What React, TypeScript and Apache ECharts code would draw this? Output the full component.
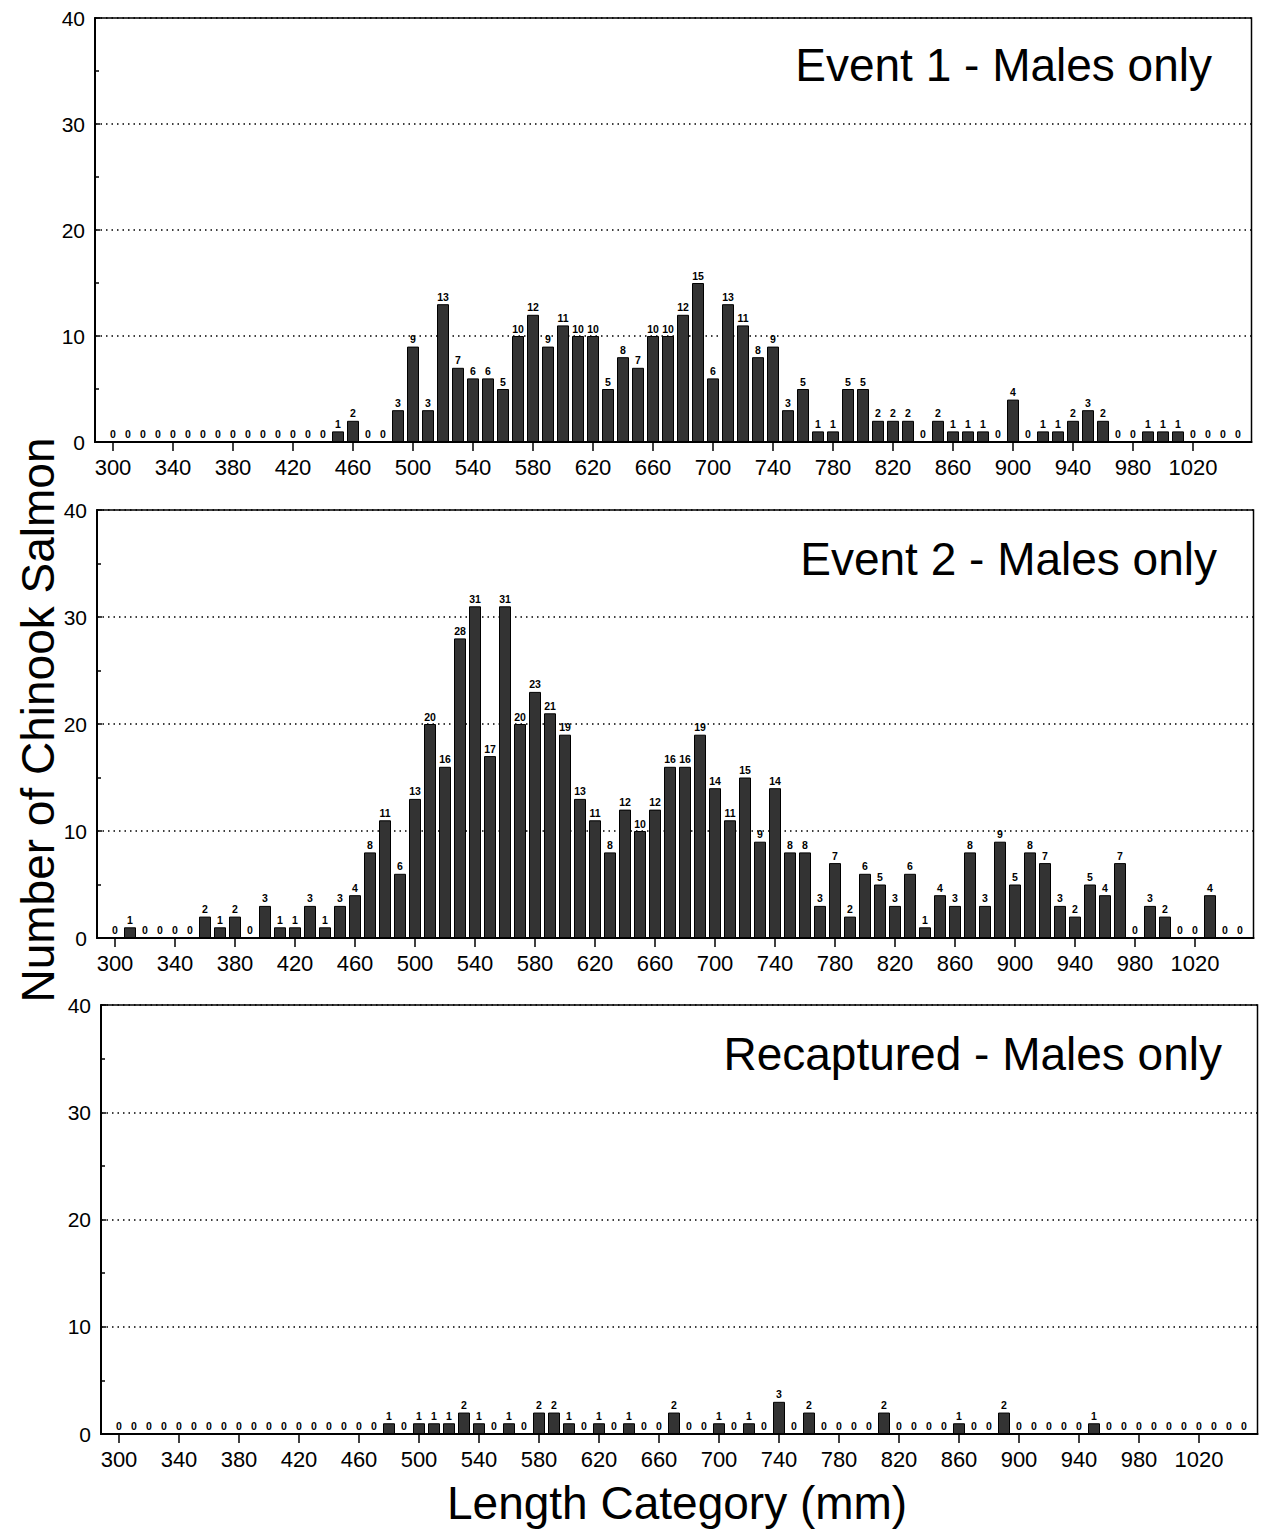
import React, { useEffect, useRef } from "react";
import * as echarts from "echarts";

const lengthCategories = [
  300, 310, 320, 330, 340, 350, 360, 370, 380, 390,
  400, 410, 420, 430, 440, 450, 460, 470, 480, 490,
  500, 510, 520, 530, 540, 550, 560, 570, 580, 590,
  600, 610, 620, 630, 640, 650, 660, 670, 680, 690,
  700, 710, 720, 730, 740, 750, 760, 770, 780, 790,
  800, 810, 820, 830, 840, 850, 860, 870, 880, 890,
  900, 910, 920, 930, 940, 950, 960, 970, 980, 990,
  1000, 1010, 1020, 1030, 1040, 1050,
];

const event1Counts = [
  0, 0, 0, 0, 0, 0, 0, 0, 0, 0,
  0, 0, 0, 0, 0, 1, 2, 0, 0, 3,
  9, 3, 13, 7, 6, 6, 5, 10, 12, 9,
  11, 10, 10, 5, 8, 7, 10, 10, 12, 15,
  6, 13, 11, 8, 9, 3, 5, 1, 1, 5,
  5, 2, 2, 2, 0, 2, 1, 1, 1, 0,
  4, 0, 1, 1, 2, 3, 2, 0, 0, 1,
  1, 1, 0, 0, 0, 0,
];

const event2Counts = [
  0, 1, 0, 0, 0, 0, 2, 1, 2, 0,
  3, 1, 1, 3, 1, 3, 4, 8, 11, 6,
  13, 20, 16, 28, 31, 17, 31, 20, 23, 21,
  19, 13, 11, 8, 12, 10, 12, 16, 16, 19,
  14, 11, 15, 9, 14, 8, 8, 3, 7, 2,
  6, 5, 3, 6, 1, 4, 3, 8, 3, 9,
  5, 8, 7, 3, 2, 5, 4, 7, 0, 3,
  2, 0, 0, 4, 0, 0,
];

const recapturedCounts = [
  0, 0, 0, 0, 0, 0, 0, 0, 0, 0,
  0, 0, 0, 0, 0, 0, 0, 0, 1, 0,
  1, 1, 1, 2, 1, 0, 1, 0, 2, 2,
  1, 0, 1, 0, 1, 0, 0, 2, 0, 0,
  1, 0, 1, 0, 3, 0, 2, 0, 0, 0,
  0, 2, 0, 0, 0, 0, 1, 0, 0, 2,
  0, 0, 0, 0, 0, 1, 0, 0, 0, 0,
  0, 0, 0, 0, 0, 0,
];

const xTickLabels = [300, 340, 380, 420, 460, 500, 540, 580, 620, 660, 700, 740, 780, 820, 860, 900, 940, 980, 1020];
const yTickLabels = [0, 10, 20, 30, 40];

const panelTitles = ["Event 1 - Males only", "Event 2 - Males only", "Recaptured - Males only"];
const yTitle = "Number of Chinook Salmon";
const xTitle = "Length Category (mm)";

const FONT = "'Liberation Sans', Arial, Helvetica, sans-serif";

export default function App() {
  const ref = useRef<HTMLDivElement>(null);

  useEffect(() => {
    if (!ref.current) return;
    const chart = echarts.init(ref.current, undefined, { renderer: "svg" });

    const panels = [event1Counts, event2Counts, recapturedCounts];
    const grids = [
      { left: 95, top: 18, width: 1156.5, height: 424 },
      { left: 97, top: 510, width: 1156.5, height: 428 },
      { left: 101, top: 1005, width: 1156.5, height: 429 },
    ];
    const titlePos = [
      { right: 49, top: 42 },
      { right: 44, top: 536 },
      { right: 39, top: 1031 },
    ];

    const option: any = {
      animation: false,
      backgroundColor: "#fff",
      textStyle: { fontFamily: FONT, color: "#000" },
      title: [
        ...panelTitles.map((t, i) => ({
          text: t,
          right: titlePos[i].right,
          top: titlePos[i].top,
          padding: 0,
          textStyle: { fontSize: 46, fontWeight: "normal", color: "#000", fontFamily: FONT },
        })),
        {
          text: xTitle,
          left: 447,
          top: 1480,
          padding: 0,
          textStyle: { fontSize: 46, fontWeight: "normal", color: "#000", fontFamily: FONT },
        },
      ],
      graphic: [
        {
          type: "text",
          x: 38,
          y: 720,
          rotation: Math.PI / 2,
          style: {
            text: yTitle,
            fontSize: 46,
            fontFamily: FONT,
            fill: "#000",
            align: "center",
            verticalAlign: "middle",
          },
        },
      ],
      grid: grids.map((g) => ({
        ...g,
        show: true,
        borderColor: "#000",
        borderWidth: 1.5,
        backgroundColor: "transparent",
        containLabel: false,
      })),
      xAxis: grids.map((_, i) => ({
        type: "value",
        gridIndex: i,
        min: 288,
        max: 1059,
        splitLine: { show: false },
        axisLine: { show: true, onZero: false, lineStyle: { color: "#000", width: 2 } },
        axisTick: {
          show: true,
          customValues: xTickLabels,
          length: 9,
          lineStyle: { color: "#000", width: 1.5 },
        },
        axisLabel: {
          customValues: xTickLabels,
          formatter: (v: number) => String(v),
          fontSize: 22,
          color: "#000",
          margin: 14,
          fontFamily: FONT,
        },
      })),
      yAxis: grids.map((_, i) => ({
        type: "value",
        gridIndex: i,
        min: yTickLabels[0],
        max: yTickLabels[yTickLabels.length - 1],
        interval: 10,
        axisLine: { show: true, lineStyle: { color: "#000", width: 2 } },
        axisTick: { show: true, inside: true, length: 5, lineStyle: { color: "#000", width: 1.5 } },
        minorTick: { show: true, splitNumber: 2, length: 4, lineStyle: { color: "#000", width: 1.5 } },
        axisLabel: { fontSize: 21, color: "#000", margin: 10, fontFamily: FONT },
        splitLine: { show: true, lineStyle: { color: "#000", width: 1.5, type: [1.5, 4] } },
      })),
      series: panels.map((vals, i) => ({
        type: "bar",
        xAxisIndex: i,
        yAxisIndex: i,
        barWidth: 12,
        data: lengthCategories.map((x, j) => [x, vals[j]]),
        itemStyle: { color: "#333333", borderColor: "#000", borderWidth: 1 },
        label: {
          show: true,
          position: "top",
          distance: 2,
          fontSize: 10.5,
          fontWeight: "bold",
          color: "#000",
          fontFamily: FONT,
          formatter: (p: any) => String(p.value[1]),
        },
      })),
    };

    chart.setOption(option);
    return () => chart.dispose();
  }, []);

  return (
    <div
      ref={ref}
      style={{ position: "absolute", left: 0, top: 0, width: 1261, height: 1539, background: "#fff" }}
    />
  );
}
